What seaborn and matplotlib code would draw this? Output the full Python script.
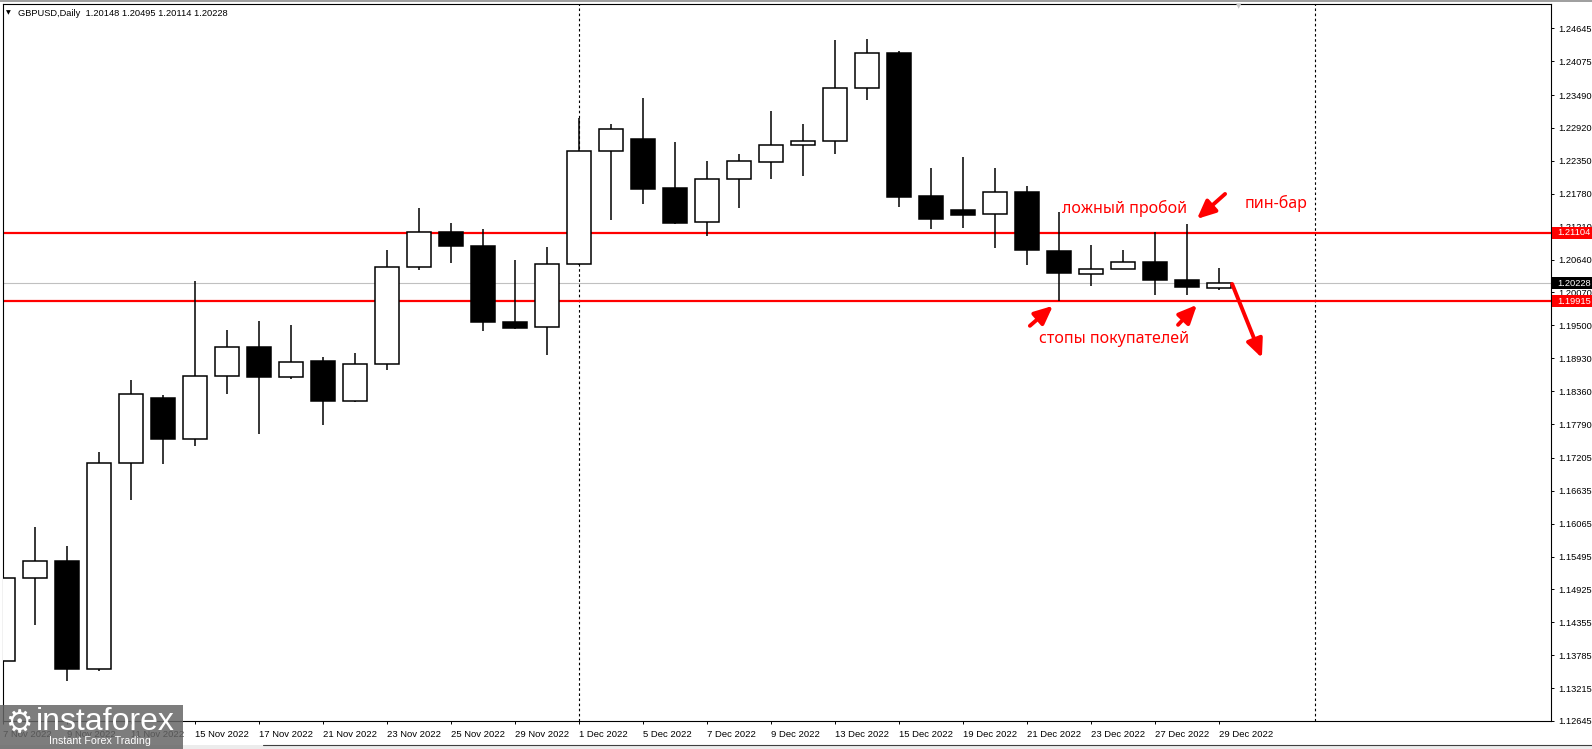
import matplotlib
matplotlib.use("Agg")
import matplotlib.pyplot as plt
import matplotlib.patches as mpatches
import matplotlib.transforms as mtransforms
import numpy as np
import pandas as pd
import seaborn as sns

# ---------------- data ----------------
dates = ["2022-11-07", "2022-11-08", "2022-11-09", "2022-11-10", "2022-11-11",
         "2022-11-14", "2022-11-15", "2022-11-16", "2022-11-17", "2022-11-18",
         "2022-11-21", "2022-11-22", "2022-11-23", "2022-11-24", "2022-11-25",
         "2022-11-28", "2022-11-29", "2022-11-30", "2022-12-01", "2022-12-02",
         "2022-12-05", "2022-12-06", "2022-12-07", "2022-12-08", "2022-12-09",
         "2022-12-12", "2022-12-13", "2022-12-14", "2022-12-15", "2022-12-16",
         "2022-12-19", "2022-12-20", "2022-12-21", "2022-12-22", "2022-12-23",
         "2022-12-26", "2022-12-27", "2022-12-28", "2022-12-29"]
opens = [1.13684, 1.15118, 1.15412, 1.13539, 1.17123, 1.18234, 1.17538, 1.18626,
         1.19127, 1.18609, 1.18891, 1.18194, 1.18834, 1.20510, 1.21115, 1.20878,
         1.19560, 1.19473, 1.20562, 1.22514, 1.22727, 1.21880, 1.21288, 1.22031,
         1.22324, 1.22618, 1.22687, 1.23620, 1.24225, 1.21742, 1.21495, 1.21426,
         1.21806, 1.20792, 1.20389, 1.20475, 1.20596, 1.20285, 1.20148]
highs = [1.15423, 1.16000, 1.15671, 1.17313, 1.18545, 1.18286, 1.20273, 1.19426,
         1.19582, 1.19513, 1.18960, 1.19029, 1.20809, 1.21535, 1.21275, 1.21172,
         1.20636, 1.20861, 1.23085, 1.22986, 1.23435, 1.22675, 1.22347, 1.22468,
         1.23211, 1.22986, 1.24438, 1.24455, 1.24260, 1.22226, 1.22416, 1.22226,
         1.21910, 1.21460, 1.20890, 1.20809, 1.21120, 1.21253, 1.20495]
lows = [1.13033, 1.14300, 1.13332, 1.13517, 1.16477, 1.17094, 1.17410, 1.18315,
        1.17617, 1.18562, 1.17773, 1.18170, 1.18718, 1.20451, 1.20572, 1.19397,
        1.19440, 1.18995, 1.20540, 1.21332, 1.21609, 1.21263, 1.21056, 1.21540,
        1.22041, 1.22093, 1.22473, 1.23406, 1.21557, 1.21177, 1.21194, 1.20849,
        1.20538, 1.19922, 1.20175, 1.20470, 1.20019, 1.20019, 1.20114]
closes = [1.15118, 1.15412, 1.13539, 1.17123, 1.18315, 1.17531, 1.18626, 1.19127,
          1.18603, 1.18868, 1.18187, 1.18839, 1.20510, 1.21115, 1.20883, 1.19553,
          1.19449, 1.20562, 1.22520, 1.22895, 1.21868, 1.21281, 1.22031, 1.22342,
          1.22618, 1.22687, 1.23620, 1.24225, 1.21730, 1.21350, 1.21419, 1.21806,
          1.20804, 1.20399, 1.20475, 1.20596, 1.20285, 1.20164, 1.20228]

price_ticks = [1.24645, 1.24075, 1.23490, 1.22920, 1.22350, 1.21780, 1.21210,
               1.20640, 1.20070, 1.19500, 1.18930, 1.18360, 1.17790, 1.17205,
               1.16635, 1.16065, 1.15495, 1.14925, 1.14355, 1.13785, 1.13215,
               1.12645]
resistance_level = 1.21104
support_level = 1.19915
bid_price = 1.20228
separator_bars = [18, 41]
title_text = "GBPUSD,Daily  1.20148 1.20495 1.20114 1.20228"

# ---------------- figure ----------------
sns.set_theme(style="white")
plt.rcParams['font.family'] = ['Liberation Sans', 'DejaVu Sans']

W, H = 1592, 749
fig = plt.figure(figsize=(W / 100, H / 100), dpi=100)
fig.patch.set_facecolor("white")
L, R, T, B = 3, 1551, 4, 721
ax = fig.add_axes([L / W, 1 - B / H, (R - L) / W, (B - T) / H])
ax.set_facecolor("white")

df = pd.DataFrame({"date": pd.to_datetime(dates), "open": opens, "high": highs,
                   "low": lows, "close": closes})
df["pos"] = np.arange(len(df))
df["bull"] = df["close"] >= df["open"]

ax.set_xlim(0, 48.375)
ax.set_ylim(1.12645, 1.25068)

# levels
ax.axhline(bid_price, color="#c0c0c0", lw=0.8, zorder=1)
ax.axhline(resistance_level, color="#ff0000", lw=1.6, zorder=1.2)
ax.axhline(support_level, color="#ff0000", lw=1.6, zorder=1.2)
for s in separator_bars:
    ax.axvline(s, color="black", lw=0.8, dashes=(2.3, 2.3), zorder=1)

# candles
ax.vlines(df["pos"], df["low"], df["high"], color="black", lw=1.1, zorder=2)
body_bottom = np.minimum(df["open"], df["close"])
body_height = np.abs(df["close"] - df["open"])
face = np.where(df["bull"], "white", "black")
ax.bar(df["pos"], body_height, bottom=body_bottom, width=0.75, color=face,
       edgecolor="black", linewidth=1.1, zorder=3)

# axes styling
for sp in ax.spines.values():
    sp.set_visible(True)
    sp.set_color("black")
    sp.set_linewidth(0.8)
ax.yaxis.tick_right()
ax.set_yticks(price_ticks)
ax.set_yticklabels([f"{v:.5f}" for v in price_ticks])
ax.tick_params(axis="y", direction="out", length=2.5, width=0.7, pad=3,
               labelsize=6.7, colors="black", right=True, left=False)
xt = df["pos"].iloc[::2]
xl = [f"{d.day} {d.strftime('%b %Y')}" for d in df["date"].iloc[::2]]
ax.set_xticks(xt)
ax.set_xticklabels(xl, ha="left")
ax.tick_params(axis="x", direction="out", length=2.5, width=0.7, pad=4,
               labelsize=6.8, colors="black", bottom=True)
ax.grid(False)

# price tags on the right scale
tag_tr = mtransforms.blended_transform_factory(fig.transFigure, ax.transData)
tag_h = 12 * (1.25068 - 1.12645) / (B - T)
for val, col in [(resistance_level, "#ff0000"), (bid_price, "black"),
                 (support_level, "#ff0000")]:
    rect = mpatches.Rectangle((1552 / W, val - tag_h / 2), 40 / W, tag_h,
                              transform=tag_tr, facecolor=col, edgecolor="none",
                              clip_on=False, zorder=6)
    ax.add_patch(rect)
    ax.text(1557 / W, val, f"{val:.5f}", transform=tag_tr, color="white",
            fontsize=6.7, va="center", ha="left", zorder=7, clip_on=False)

# annotations
red = "#ff0000"
afont = ['Noto Sans', 'DejaVu Sans']
ax.text(33.09, 1.21517, "ложный пробой", color=red, fontsize=11.5, family=afont,
        ha="left", va="center", zorder=8)
ax.text(38.81, 1.21604, "пин-бар", color=red, fontsize=11.5, family=afont,
        ha="left", va="center", zorder=8)
ax.text(32.375, 1.19265, "стопы покупателей", color=red, fontsize=11.5, family=afont,
        ha="left", va="center", zorder=8)

arrow_kw = dict(arrowstyle="-|>,head_length=0.55,head_width=0.25", color=red,
                lw=2.8, mutation_scale=20, shrinkA=0, shrinkB=0)
arrows = [((38.19, 1.21777), (37.31, 1.21344)),
          ((32.09, 1.19492), (32.81, 1.19838)),
          ((36.72, 1.19509), (37.31, 1.19855)),
          ((38.41, 1.20218), (39.34, 1.18937))]
for tail, tip in arrows:
    ax.annotate("", xy=tip, xytext=tail, arrowprops=arrow_kw, zorder=8)

# title / window elements
fig.text(18 / W, 1 - 13 / H, title_text, fontsize=6.7, va="center", ha="left",
         color="black")
fig.text(8 / W, 1 - 13 / H, "▼", fontsize=4.5, va="center", ha="center",
         color="black", family=['DejaVu Sans'])
fig.text(1239 / W, 1 - 6 / H, "▼", fontsize=5, va="center", ha="center",
         color="#c8c8c8", family=['DejaVu Sans'])
fig.patches.append(mpatches.Rectangle((0, 1 - 1.5 / H), 1, 1.5 / H,
                                      transform=fig.transFigure, facecolor="#a0a0a0",
                                      edgecolor="none"))
fig.patches.append(mpatches.Rectangle((0, 0), 1, 4 / H, transform=fig.transFigure,
                                      facecolor="#ececec", edgecolor="none"))
fig.lines.append(plt.Line2D([263 / W, 1], [4 / H, 4 / H], transform=fig.transFigure,
                            color="#404040", lw=0.8))

# watermark logo
fig.patches.append(mpatches.Rectangle((0, 0), 183 / W, 44 / H, transform=fig.transFigure,
                                      facecolor=(0.40, 0.40, 0.40), alpha=0.85,
                                      edgecolor="none", zorder=10))
fig.text(19 / W, 1 - 724 / H, "⚙", fontsize=22, color="white", ha="center",
         va="center", family=['DejaVu Sans'], zorder=11)
fig.text(36 / W, 1 - 722 / H, "instaforex", fontsize=23, color="white", ha="left",
         va="center", zorder=11)
fig.text(49 / W, 1 - 741 / H, "Instant Forex Trading", fontsize=7.7, color="white",
         ha="left", va="center", zorder=11)

fig.savefig("out.png", dpi=100, facecolor="white")
